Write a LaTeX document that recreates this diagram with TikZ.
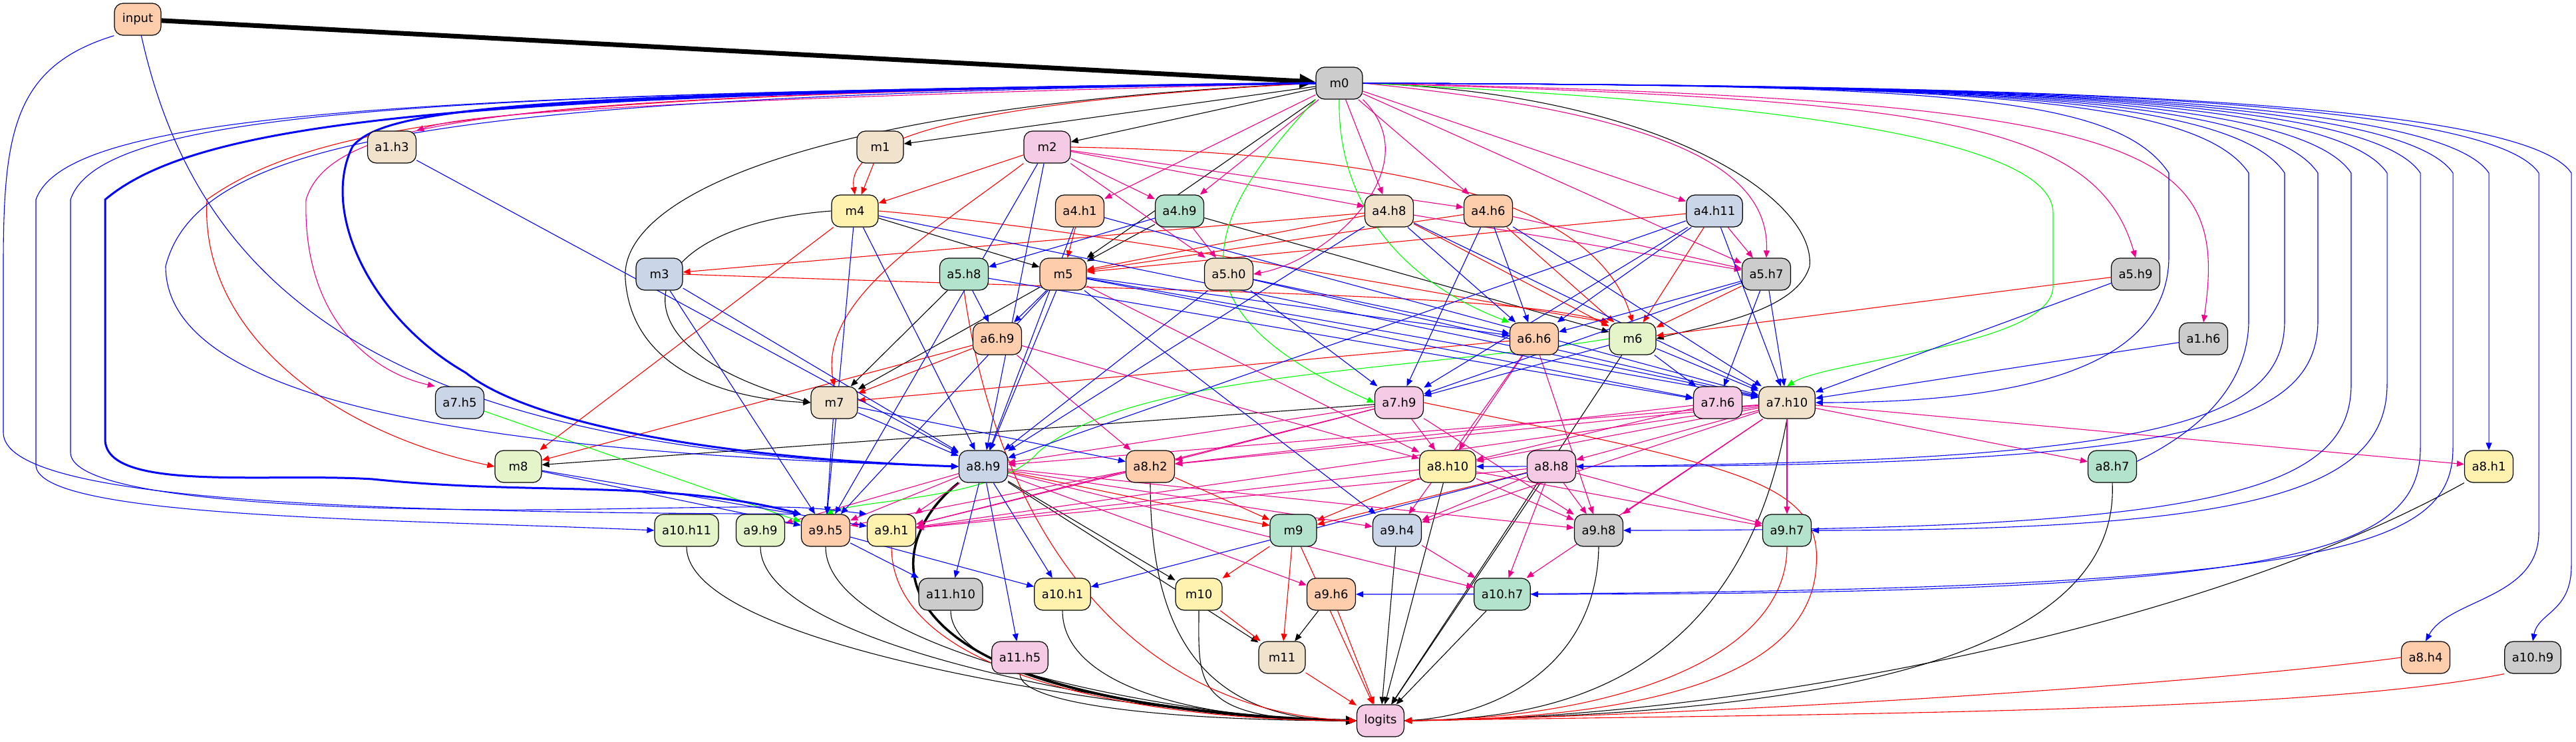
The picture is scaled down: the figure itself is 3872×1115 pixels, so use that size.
\documentclass[tikz,border=0pt]{standalone}
\usepackage{fontspec}
\setmainfont{DejaVu Sans}
\usetikzlibrary{arrows.meta,backgrounds}

\definecolor{pgreen}{HTML}{B3E2CD}
\definecolor{ppeach}{HTML}{FDCDAC}
\definecolor{pblue}{HTML}{CBD5E8}
\definecolor{ppink}{HTML}{F4CAE4}
\definecolor{plime}{HTML}{E6F5C9}
\definecolor{pyellow}{HTML}{FFF2AE}
\definecolor{pbeige}{HTML}{F1E2CC}
\definecolor{pgray}{HTML}{CCCCCC}

\tikzset{
	unit/.style={draw, rounded corners=13pt, line width=1.2pt, minimum width=70pt, minimum height=48pt, inner xsep=11pt, font=\fontsize{18}{20}\selectfont},
	wire/.style={-{Triangle[length=11pt,width=9pt]}, line width=1.1pt},
}

\begin{document}
\begin{tikzpicture}[x=1pt,y=-1pt]
	\useasboundingbox (0,0) rectangle (3872,1115);
	% rows 0 and 1
	\node[unit, fill=ppeach] (input) at (207,29) {input};
	\node[unit, fill=pgray] (m0) at (2013,125) {m0};
	% row 2
	\node[unit, fill=pbeige] (a1h3) at (589,221) {a1.h3};
	\node[unit, fill=pbeige] (m1) at (1323,221) {m1};
	\node[unit, fill=ppink] (m2) at (1574,221) {m2};
	% row 3
	\node[unit, fill=pyellow] (m4) at (1285,317) {m4};
	\node[unit, fill=ppeach] (a4h1) at (1623,317) {a4.h1};
	\node[unit, fill=pgreen] (a4h9) at (1773,317) {a4.h9};
	\node[unit, fill=pbeige] (a4h8) at (2088,317) {a4.h8};
	\node[unit, fill=ppeach] (a4h6) at (2237,317) {a4.h6};
	\node[unit, fill=pblue] (a4h11) at (2577,317) {a4.h11};
	% row 4
	\node[unit, fill=pblue] (m3) at (991,412) {m3};
	\node[unit, fill=pgreen] (a5h8) at (1449,412) {a5.h8};
	\node[unit, fill=ppeach] (m5) at (1598,412) {m5};
	\node[unit, fill=pbeige] (a5h0) at (1847,412) {a5.h0};
	\node[unit, fill=pgray] (a5h7) at (2655,412) {a5.h7};
	\node[unit, fill=pgray] (a5h9) at (3210,412) {a5.h9};
	% row 5
	\node[unit, fill=ppeach] (a6h9) at (1499,509) {a6.h9};
	\node[unit, fill=ppeach] (a6h6) at (2306,509) {a6.h6};
	\node[unit, fill=plime] (m6) at (2454,509) {m6};
	\node[unit, fill=pgray] (a1h6) at (3312,509) {a1.h6};
	% row 6
	\node[unit, fill=pblue] (a7h5) at (691,605) {a7.h5};
	\node[unit, fill=pbeige] (m7) at (1254,605) {m7};
	\node[unit, fill=ppink] (a7h9) at (2103,605) {a7.h9};
	\node[unit, fill=ppink] (a7h6) at (2582,605) {a7.h6};
	\node[unit, fill=pbeige] (a7h10) at (2686,605) {a7.h10};
	% row 7
	\node[unit, fill=plime] (m8) at (779,701) {m8};
	\node[unit, fill=pblue] (a8h9) at (1478,701) {a8.h9};
	\node[unit, fill=ppeach] (a8h2) at (1729,701) {a8.h2};
	\node[unit, fill=pyellow] (a8h10) at (2176,701) {a8.h10};
	\node[unit, fill=ppink] (a8h8) at (2332,701) {a8.h8};
	\node[unit, fill=pgreen] (a8h7) at (3175,701) {a8.h7};
	\node[unit, fill=pyellow] (a8h1) at (3741,701) {a8.h1};
	% row 8
	\node[unit, fill=plime] (a10h11) at (1032,797) {a10.h11};
	\node[unit, fill=plime] (a9h9) at (1143,797) {a9.h9};
	\node[unit, fill=ppeach] (a9h5) at (1241,797) {a9.h5};
	\node[unit, fill=pyellow] (a9h1) at (1340,797) {a9.h1};
	\node[unit, fill=pgreen] (m9) at (1944,797) {m9};
	\node[unit, fill=pblue] (a9h4) at (2100,797) {a9.h4};
	\node[unit, fill=pgray] (a9h8) at (2403,797) {a9.h8};
	\node[unit, fill=pgreen] (a9h7) at (2686,797) {a9.h7};
	% row 9
	\node[unit, fill=pgray] (a11h10) at (1429,893) {a11.h10};
	\node[unit, fill=pyellow] (a10h1) at (1597,893) {a10.h1};
	\node[unit, fill=pyellow] (m10) at (1802,893) {m10};
	\node[unit, fill=ppeach] (a9h6) at (2001,893) {a9.h6};
	\node[unit, fill=pgreen] (a10h7) at (2258,893) {a10.h7};
	% rows 10 and 11
	\node[unit, fill=ppink] (a11h5) at (1533,988) {a11.h5};
	\node[unit, fill=pbeige] (m11) at (1927,988) {m11};
	\node[unit, fill=ppeach] (a8h4) at (3646,988) {a8.h4};
	\node[unit, fill=pgray] (a10h9) at (3807,988) {a10.h9};
	\node[unit, fill=ppink] (logits) at (2075,1083) {logits};

	\begin{scope}[on background layer]
	% black
	\draw[line width=7pt, -{Triangle[length=24pt,width=20pt]}] (input) -- (m0);
	\foreach \a/\b in {m0/m1, m0/m2, m0/m5, m4/m5, a4h9/m5, a5h8/m7, m5/m7, a4h9/m6, a7h9/m8, a8h9/m10, a8h9/m11, a9h6/m11, m6/logits, a9h4/logits, a8h10/logits, a8h8/logits, a10h7/logits}
		\draw[wire] (\a) -- (\b);
	\draw[wire] (m0.west) .. controls (1200,160) and (930,300) .. (940,420) .. controls (950,560) and (1100,600) .. (m7.west);
	\draw[wire] (m4.west) .. controls (950,340) and (900,520) .. (m7.west);
	\draw[wire] (m0.east) .. controls (2500,140) and (2730,300) .. (2720,400) .. controls (2700,470) and (2560,490) .. (m6.east);
	\foreach \a/\d in {a10h11/160, a9h9/160, a9h5/160, a8h2/200, a11h10/110, a10h1/110, m10/110, a11h5/50}
		\draw[wire] (\a.south) .. controls +(0,\d) and +(-250,0) .. (logits.west);
	\draw[wire] (a7h10.south) .. controls (2610,1050) and (2300,1080) .. (logits.east);
	\draw[wire] (a8h7.south) .. controls (3190,1050) and (2500,1075) .. (logits.east);
	\draw[wire] (a8h1.south west) .. controls (3300,950) and (2600,1080) .. (logits.east);
	\draw[wire] (a9h8.south) .. controls (2400,1000) and (2250,1075) .. (logits.east);
	\draw[line width=3.5pt, -{Triangle[length=16pt,width=13pt]}] (a8h9.south west) .. controls (1320,820) and (1280,1060) .. (logits.west);
	% red
	\foreach \a/\b in {m1/m4, m2/m4, a4h1/m5, a4h8/m5, a4h6/m5, a4h11/m5, a4h8/m6, a4h6/m6, a4h11/m6, a5h7/m6, a5h9/m6, a6h9/m7, a6h6/m7, a4h8/m3, m4/m8, a6h9/m8, a8h9/m9, a8h2/m9, a8h10/m9, a8h8/m9, m9/m10, m9/m11, m10/m11, m11/logits, a9h6/logits, m9/logits}
		\draw[wire, red] (\a) -- (\b);
	\draw[wire, red] (m3.east) .. controls (1800,440) and (2250,440) .. (m6.north west);
	\draw[wire, red] (m4.east) .. controls (1700,350) and (2200,450) .. (m6.north west);
	\draw[wire, red] (m2.east) .. controls (2100,230) and (2400,300) .. (m6.north);
	\draw[wire, red] (m2.south west) .. controls (1400,350) and (1230,450) .. (m7.north);
	\draw[wire, red] (m0.west) .. controls (1500,150) and (1270,200) .. (m4.north);
	\draw[wire, red] (m0.west) .. controls (800,140) and (480,180) .. (311,300) .. controls (300,500) and (500,650) .. (m8.west);
	\draw[wire, red] (a9h1.south) .. controls +(0,200) and +(-300,0) .. (logits.west);
	\draw[wire, red] (a5h8.south) .. controls (1500,800) and (1700,1070) .. (logits.west);
	\draw[wire, red] (a9h7.south) .. controls (2686,1000) and (2400,1080) .. (logits.east);
	\draw[wire, red] (a7h9.east) .. controls (2600,700) and (2740,720) .. (2730,850) .. controls (2720,1040) and (2400,1080) .. (logits.east);
	\draw[wire, red] (a8h4.west) .. controls +(-300,40) and +(500,-10) .. (logits.east);
	\draw[wire, red] (a10h9.south west) .. controls +(-300,60) and +(600,-10) .. (logits.east);
	% magenta
	\foreach \a/\b in {m0/a4h1, m0/a4h9, m0/a4h8, m0/a4h6, m0/a4h11, m0/a5h7, m2/a4h9, m2/a4h8, m2/a4h6, m2/a5h0, a4h9/a5h0, a4h8/a5h7, a4h6/a5h7, a4h11/a5h7, m5/a8h10, a6h9/a8h2, a6h9/a8h10, a6h6/a8h10, a6h6/a9h4, a6h6/a9h8, a7h9/a8h10, a7h9/a8h2, a7h9/a9h8, a7h9/a8h9, a7h9/a9h1, a7h6/a8h10, a7h6/a8h2, a7h10/a8h10, a7h10/a8h8, a7h10/a8h7, a7h10/a8h1, a7h10/a9h7, a7h10/a9h8, a7h10/a10h7, a7h10/a9h4, a7h10/a8h9, a7h10/a9h1, a7h10/a8h2, a8h9/a9h9, a8h9/a9h5, a8h9/a9h1, a8h9/a9h4, a8h9/a9h8, a8h9/a9h6, a8h9/a10h7, a8h2/a9h5, a8h2/a9h1, a8h10/a9h8, a8h10/a9h1, a8h10/a9h7, a8h8/a9h4, a8h8/a9h8, a8h8/a10h7, a8h8/a9h7, a8h8/a9h1, a9h4/a10h7}
		\draw[wire, magenta] (\a) -- (\b);
	\draw[wire, magenta] (m0.west) .. controls (1000,150) and (700,170) .. (a1h3.north east);
	\draw[wire, magenta] (m0.west) .. controls (800,142) and (500,170) .. (460,300) .. controls (455,480) and (560,560) .. (a7h5.north west);
	\draw[wire, magenta] (m0.south east) .. controls (2150,250) and (2000,390) .. (a5h0.east);
	\draw[wire, magenta] (m0.east) .. controls (2500,170) and (2660,250) .. (a5h7.north);
	\draw[wire, magenta] (m0.east) .. controls (2900,150) and (3150,180) .. (a5h9.north);
	\draw[wire, magenta] (m0.east) .. controls (3250,150) and (3350,220) .. (a1h6.north);
	% green
	\draw[wire, green] (a7h5) -- (a9h5);
	\draw[wire, green] (m0.south) .. controls (2010,300) and (2100,420) .. (a6h6.north west);
	\draw[wire, green] (m0.south west) .. controls (1800,340) and (1760,470) .. (a7h9.west);
	\draw[wire, green] (m0.east) .. controls (2600,150) and (3086,200) .. (3086,320) -- (3086,430) .. controls (3086,520) and (2750,540) .. (a7h10.north);
	\draw[wire, green] (m6.west) .. controls (2100,560) and (1700,560) .. (1560,680) .. controls (1500,750) and (1300,750) .. (a9h5.north);
	% blue
	\foreach \a/\b in {a4h9/a5h8, a4h8/a6h6, a4h6/a6h6, a4h11/a6h6, a5h0/a6h6, m5/a6h6, a5h7/a6h6, a5h8/a6h9, m5/a6h9, a4h6/a7h9, a5h0/a7h9, a4h11/a7h9, m6/a7h9, a5h7/a7h9, m6/a7h6, a5h7/a7h6, m5/a7h6, a5h8/a7h6, m6/a7h10, a5h7/a7h10, a4h11/a7h10, a4h6/a7h10, a4h8/a7h10, a5h0/a7h10, m5/a7h10, a4h1/a7h10, m4/a7h10, a5h9/a7h10, a1h6/a7h10, a1h3/a8h9, m2/a8h9, m3/a8h9, m4/a8h9, m7/a8h9, a4h1/a8h9, a4h8/a8h9, a4h11/a8h9, a5h0/a8h9, m5/a8h9, m7/a8h2, m3/a9h5, m4/a9h5, m5/a9h5, m7/a9h5, m8/a9h5, m8/a9h1, m2/a9h5, m5/a9h4, a8h9/a11h10, a8h9/a10h1, a8h9/a11h5, a9h5/a11h10, a9h5/a10h1, a8h8/a10h1}
		\draw[wire, blue] (\a) -- (\b);
	\foreach \t/\c/\ty in {a7h10/3260/605, a8h7/3380/701, a8h10/3434/701, a8h8/3484/701, a9h8/3534/797, a9h7/3588/797, a10h7/3638/893, a9h6/3687/893}
		\draw[wire, blue] (m0.east) .. controls (2900,128) and (\c-80,140) .. (\c,260) -- (\c,\ty-220) .. controls (\c,\ty-60) and (\c-200,\ty) .. (\t.east);
	\draw[wire, blue] (m0.east) .. controls (2900,128) and (3661,140) .. (3741,260) -- (a8h1.north);
	\draw[wire, blue] (m0.east) .. controls (2900,128) and (3736,140) .. (3816,260) -- (3816,800) .. controls (3816,900) and (3680,900) .. (a8h4.north);
	\draw[wire, blue] (m0.east) .. controls (2900,128) and (3785,140) .. (3865,260) -- (3865,850) .. controls (3865,920) and (3815,920) .. (a10h9.north);
	\draw[wire, blue, line width=3pt] (m0.west) .. controls (800,140) and (580,160) .. (530,220) .. controls (480,320) and (560,480) .. (700,560) .. controls (800,640) and (1100,690) .. (a8h9.west);
	\draw[wire, blue, line width=3pt] (m0.west) .. controls (700,140) and (300,180) .. (158,300) -- (158,660) .. controls (158,740) and (400,710) .. (560,720) .. controls (800,745) and (1000,720) .. (a9h5.north west);
	\draw[wire, blue] (m0.west) .. controls (600,140) and (100,170) .. (54,300) -- (54,700) .. controls (60,780) and (600,780) .. (a10h11.west);
	\draw[wire, blue] (m0.west) .. controls (600,140) and (150,170) .. (106,300) -- (106,680) .. controls (106,760) and (600,770) .. (900,765) .. controls (1200,760) .. (a9h1.north west);
	\draw[wire, blue] (m0.west) .. controls (700,145) and (300,200) .. (249,400) .. controls (249,600) and (700,680) .. (a8h9.west);
	\draw[wire, blue] (input.south west) .. controls (20,100) and (5,200) .. (5,400) -- (5,650) .. controls (5,750) and (500,770) .. (a9h5.north west);
	\draw[wire, blue] (input) .. controls (300,450) and (600,680) .. (a8h9.west);
	\end{scope}
\end{tikzpicture}
\end{document}
